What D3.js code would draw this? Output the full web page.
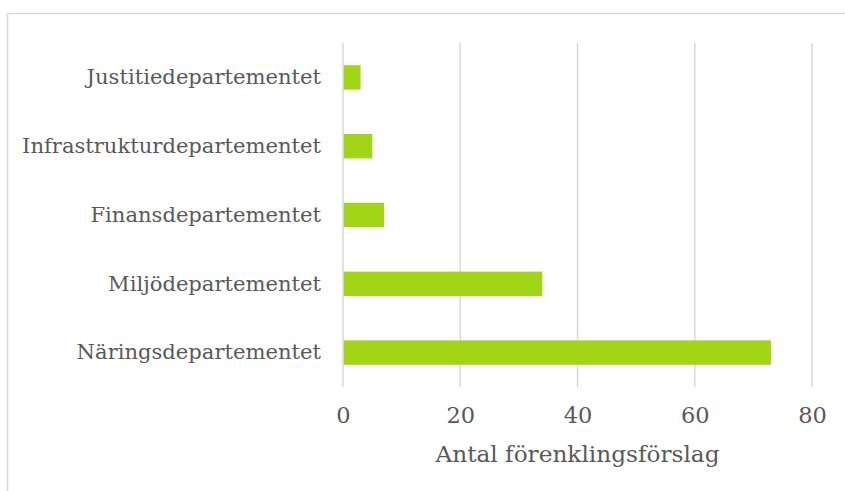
<!DOCTYPE html>
<html>
<head>
<meta charset="utf-8">
<script src="https://cdn.jsdelivr.net/npm/d3@7"></script>
<style>
  html, body { margin: 0; padding: 0; background: #fff; }
  svg { display: block; }
  text { font-family: "DejaVu Serif", serif; fill: #595959; }
</style>
</head>
<body>
<svg id="chart" width="845" height="491"></svg>
<script>
// Departments, top to bottom
const departments = [
  "Justitiedepartementet",
  "Infrastrukturdepartementet",
  "Finansdepartementet",
  "Miljödepartementet",
  "Näringsdepartementet"
];
// Number of simplification proposals per department
const proposals = [3, 5, 7, 34, 73];
const xTicks = [0, 20, 40, 60, 80];
const xTitle = "Antal förenklingsförslag";

const svg = d3.select("#chart");
const W = 845, H = 491;
const plot = { left: 343, right: 812, top: 43, bottom: 387 };

// Chart frame (top and left edges)
svg.append("path")
  .attr("d", `M7.5,${H} V13.5 H${W}`)
  .attr("fill", "none")
  .attr("stroke", "#d9d9d9")
  .attr("stroke-width", 1.5);

const x = d3.scaleLinear().domain([0, 80]).range([plot.left, plot.right]);
const y = d3.scaleBand().domain(departments).range([plot.top, plot.bottom]).paddingInner(0.645).paddingOuter(0.3225);

// Vertical gridlines
svg.append("g")
  .selectAll("line")
  .data(xTicks)
  .join("line")
  .attr("x1", d => x(d)).attr("x2", d => x(d))
  .attr("y1", plot.top).attr("y2", plot.bottom)
  .attr("stroke", "#d9d9d9")
  .attr("stroke-width", 1.5);

// Bars
svg.append("g")
  .selectAll("rect")
  .data(departments.map((d, i) => ({ name: d, value: proposals[i] })))
  .join("rect")
  .attr("x", x(0) + 0.75)
  .attr("y", d => y(d.name))
  .attr("width", d => x(d.value) - x(0) - 0.75)
  .attr("height", y.bandwidth())
  .attr("fill", "#a3d517");

// Category axis
const yAxis = svg.append("g")
  .attr("transform", `translate(${plot.left},0)`)
  .call(d3.axisLeft(y).tickSize(0).tickPadding(22));
yAxis.select(".domain").remove();
yAxis.selectAll("text")
  .attr("font-family", "DejaVu Serif, serif")
  .attr("font-size", 21.1)
  .attr("fill", "#595959");

// Value axis
const xAxis = svg.append("g")
  .attr("transform", `translate(0,${plot.bottom})`)
  .call(d3.axisBottom(x).tickValues(xTicks).tickSize(0).tickPadding(20));
xAxis.select(".domain").remove();
xAxis.selectAll("text")
  .attr("font-family", "DejaVu Serif, serif")
  .attr("font-size", 22.5)
  .attr("fill", "#595959");

// Axis title
svg.append("text")
  .attr("x", (plot.left + plot.right) / 2)
  .attr("y", 462)
  .attr("text-anchor", "middle")
  .attr("font-size", 23.2)
  .text(xTitle);
</script>
</body>
</html>
